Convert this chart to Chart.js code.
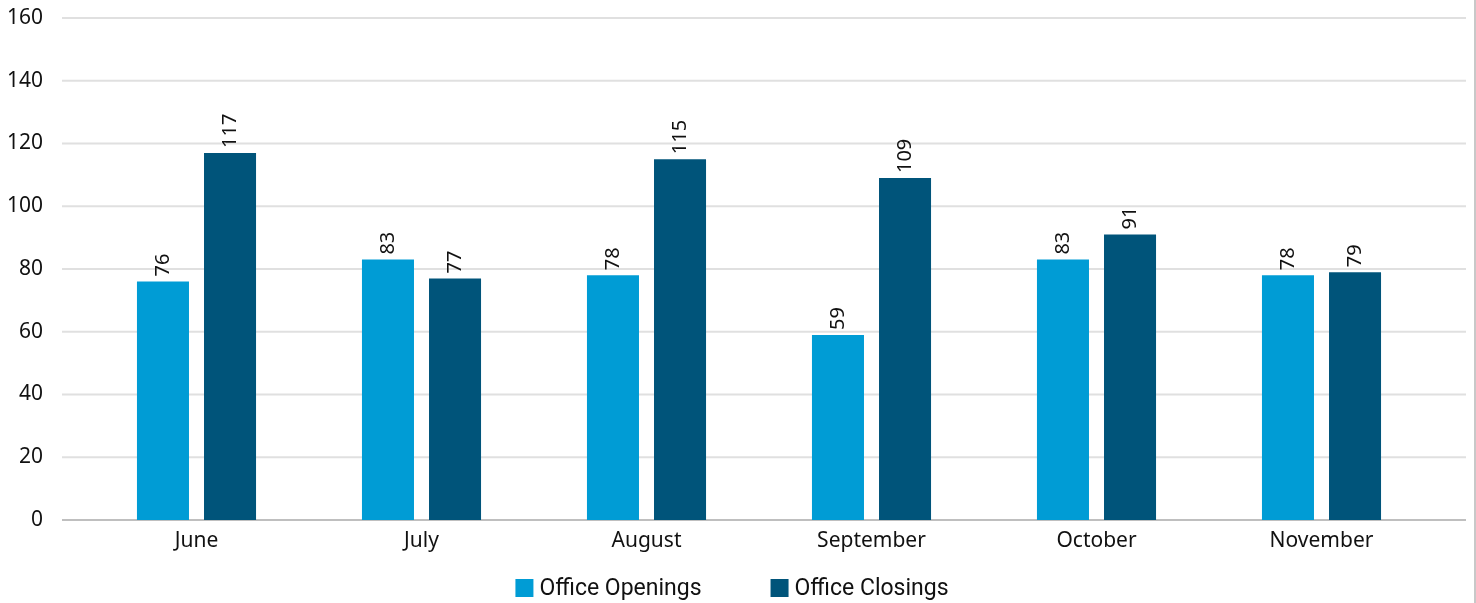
<!DOCTYPE html>
<html>
<head>
<meta charset="utf-8">
<script src="https://cdn.jsdelivr.net/npm/chart.js@4.4.1/dist/chart.umd.min.js"></script>
<style>
  body { margin: 0; background: #fff; }
  #wrap { width: 1474px; height: 603px; border-right: 2px solid #c8c8c8; }
</style>
</head>
<body>
<div id="wrap"><canvas id="chart" width="1474" height="603"></canvas></div>
<script>
var months = ['June', 'July', 'August', 'September', 'October', 'November'];
var openings = [76, 83, 78, 59, 83, 78];
var closings = [117, 77, 115, 109, 91, 79];
var yTicks = [0, 20, 40, 60, 80, 100, 120, 140, 160];

var seriesNames = ['Office Openings', 'Office Closings'];
var seriesColors = ['#009cd5', '#00547a'];

var tickFont = { family: 'Noto Sans', size: 21 };

// horizontal grid lines run wider than the bar area, like the original
var gridPlugin = {
  id: 'wideGrid',
  beforeDatasetsDraw: function (chart) {
    var ctx = chart.ctx;
    var y = chart.scales.y;
    ctx.save();
    for (var i = 0; i < yTicks.length; i++) {
      var py = y.getPixelForValue(yTicks[i]);
      ctx.beginPath();
      ctx.lineWidth = 2;
      ctx.strokeStyle = yTicks[i] === 0 ? '#bfbfbf' : '#e0e0e0';
      ctx.moveTo(62, py);
      ctx.lineTo(1466, py);
      ctx.stroke();
    }
    ctx.restore();
  }
};

// rotated value labels over each bar
var valuePlugin = {
  id: 'values',
  afterDatasetsDraw: function (chart) {
    var ctx = chart.ctx;
    ctx.save();
    ctx.font = '20px "Noto Sans"';
    ctx.fillStyle = '#111';
    ctx.textAlign = 'left';
    ctx.textBaseline = 'middle';
    chart.data.datasets.forEach(function (ds, di) {
      var meta = chart.getDatasetMeta(di);
      meta.data.forEach(function (bar, i) {
        ctx.save();
        ctx.translate(bar.x, bar.y - 5);
        ctx.rotate(-Math.PI / 2);
        ctx.fillText(String(ds.data[i]), 0, 0);
        ctx.restore();
      });
    });
    ctx.restore();
  }
};

// legend drawn by hand so the item spacing can match
var legendPlugin = {
  id: 'bottomLegend',
  afterDraw: function (chart) {
    var ctx = chart.ctx;
    ctx.save();
    ctx.font = '23px Roboto';
    ctx.textBaseline = 'middle';
    ctx.textAlign = 'left';
    var box = 18, gap = 6, spacing = 69;
    var widths = chart.data.datasets.map(function (ds) {
      return box + gap + ctx.measureText(ds.label).width;
    });
    var total = widths.reduce(function (a, b) { return a + b; }, 0) + spacing * (widths.length - 1);
    var x = chart.width / 2 - 5 - total / 2;
    var cy = 588;
    chart.data.datasets.forEach(function (ds, i) {
      ctx.fillStyle = ds.backgroundColor;
      ctx.fillRect(x, cy - box / 2, box, box);
      ctx.fillStyle = '#111';
      ctx.fillText(ds.label, x + box + gap, cy + 1);
      x += widths[i] + spacing;
    });
    ctx.restore();
  }
};

new Chart(document.getElementById('chart'), {
  type: 'bar',
  data: {
    labels: months,
    datasets: [
      { label: seriesNames[0], data: openings, backgroundColor: seriesColors[0] },
      { label: seriesNames[1], data: closings, backgroundColor: seriesColors[1] }
    ]
  },
  options: {
    responsive: false,
    animation: false,
    layout: { padding: { top: 18, right: 40, bottom: 45, left: 0 } },
    categoryPercentage: 0.596,
    barPercentage: 0.776,
    plugins: {
      legend: { display: false },
      tooltip: { enabled: false }
    },
    scales: {
      x: {
        grid: { display: false, drawTicks: false },
        border: { display: false },
        ticks: { font: tickFont, color: '#111', padding: 8, maxRotation: 0 },
        afterFit: function (scale) { scale.height = 38; }
      },
      y: {
        min: 0,
        max: 160,
        grid: { display: false, drawTicks: false },
        border: { display: false },
        ticks: { stepSize: 20, font: tickFont, color: '#111', padding: 41 },
        afterFit: function (scale) {
          scale.width = 84;
          scale.paddingTop = 0;
          scale.paddingBottom = 0;
        }
      }
    }
  },
  plugins: [gridPlugin, valuePlugin, legendPlugin]
});
</script>
</body>
</html>
